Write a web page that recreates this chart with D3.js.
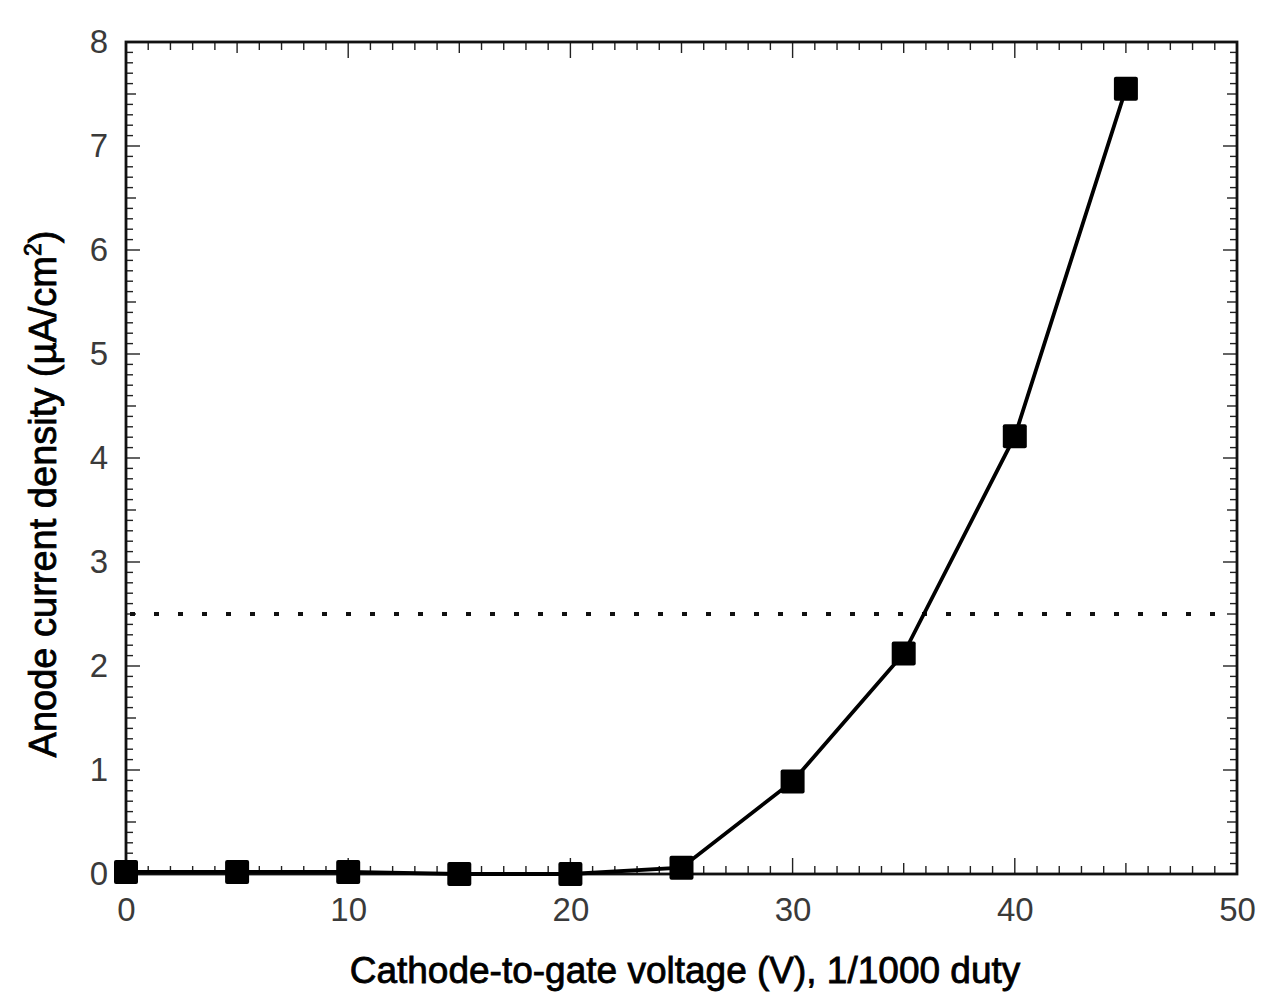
<!DOCTYPE html>
<html><head><meta charset="utf-8">
<script src="https://cdn.jsdelivr.net/npm/d3@7"></script>
<style>body{margin:0;background:#fff}svg{display:block}</style>
</head><body>
<svg id="c" width="1263" height="997"></svg>
<script>
const voltage = [0, 5, 10, 15, 20, 25, 30, 35, 40, 45];
const current = [0.02, 0.02, 0.02, 0.0, 0.0, 0.06, 0.89, 2.12, 4.21, 7.55];
const threshold = [2.5];
const xTicks = [0, 10, 20, 30, 40, 50];
const yTicks = [0, 1, 2, 3, 4, 5, 6, 7, 8];
const xLabel = "Cathode-to-gate voltage (V), 1/1000 duty";
const yLabel = "Anode current density (\u00b5A/cm";

const svg = d3.select("#c");
const L = 126, R = 1237, T = 42, B = 874;
const x = d3.scaleLinear().domain([0, 50]).range([L, R]);
const y = d3.scaleLinear().domain([0, 8]).range([B, T]);
const font = "'Liberation Sans', Arial, sans-serif";

// minor ticks (inward) on all four sides
const g = svg.append("g").attr("stroke", "#222").attr("stroke-width", 1.4);
d3.range(0, 51, 1).forEach(v => {
  const len = v % 10 === 0 ? 16 : (v % 5 === 0 ? 11 : 8);
  g.append("line").attr("x1", x(v)).attr("x2", x(v)).attr("y1", B).attr("y2", B - len);
  g.append("line").attr("x1", x(v)).attr("x2", x(v)).attr("y1", T).attr("y2", T + len);
});
d3.range(0, 81, 1).forEach(i => {
  const v = i / 10;
  const len = i % 10 === 0 ? 14 : (i % 5 === 0 ? 10 : 7);
  g.append("line").attr("y1", y(v)).attr("y2", y(v)).attr("x1", L).attr("x2", L + len);
  g.append("line").attr("y1", y(v)).attr("y2", y(v)).attr("x1", R).attr("x2", R - len);
});

// frame
svg.append("rect").attr("x", L).attr("y", T).attr("width", R - L).attr("height", B - T)
  .attr("fill", "none").attr("stroke", "#111").attr("stroke-width", 2.8);

// tick labels via d3 axes
const xAxis = svg.append("g").attr("transform", `translate(0,${B})`)
  .call(d3.axisBottom(x).tickValues(xTicks).tickSize(0).tickPadding(24).tickFormat(d3.format("d")));
xAxis.select(".domain").remove();
xAxis.selectAll("text").attr("font-family", font).attr("font-size", 33).attr("fill", "#3a3a3a");

const yAxis = svg.append("g").attr("transform", `translate(${L},0)`)
  .call(d3.axisLeft(y).tickValues(yTicks).tickSize(0).tickPadding(18).tickFormat(d3.format("d")));
yAxis.select(".domain").remove();
yAxis.selectAll("text").attr("font-family", font).attr("font-size", 33).attr("fill", "#3a3a3a");

// threshold dotted line
svg.append("line").attr("x1", L + 4).attr("x2", R - 10)
  .attr("y1", y(threshold[0])).attr("y2", y(threshold[0]))
  .attr("stroke", "#111").attr("stroke-width", 4)
  .attr("stroke-dasharray", "5,19");

// data line
const pts = voltage.map((v, i) => [v, current[i]]);
svg.append("path").datum(pts)
  .attr("d", d3.line().x(d => x(d[0])).y(d => y(d[1])))
  .attr("fill", "none").attr("stroke", "#000").attr("stroke-width", 3.8);

// markers
const s = 24;
svg.selectAll("rect.m").data(pts).enter().append("rect").attr("class", "m")
  .attr("x", d => x(d[0]) - s / 2).attr("y", d => y(d[1]) - s / 2)
  .attr("width", s).attr("height", s).attr("rx", 2).attr("fill", "#000");

// axis titles
svg.append("text").attr("x", 685).attr("y", 983).attr("text-anchor", "middle")
  .attr("font-family", font).attr("font-size", 37).attr("fill", "#000")
  .attr("stroke", "#000").attr("stroke-width", 0.8)
  .text(xLabel);

const yt = svg.append("text").attr("transform", "translate(56,494) rotate(-90)")
  .attr("text-anchor", "middle").attr("font-family", font).attr("font-size", 38)
  .attr("fill", "#000").attr("stroke", "#000").attr("stroke-width", 0.8);
yt.append("tspan").text(yLabel);
yt.append("tspan").attr("font-size", 23).attr("dy", -15).text("2");
yt.append("tspan").attr("dy", 15).text(")");
</script>
</body></html>
